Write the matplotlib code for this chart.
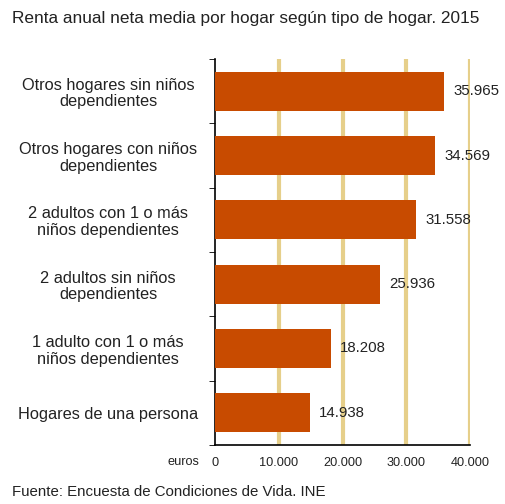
import matplotlib
matplotlib.use('Agg')
import matplotlib.pyplot as plt
import numpy as np

categories = [
    "Otros hogares sin niños\ndependientes",
    "Otros hogares con niños\ndependientes",
    "2 adultos con 1 o más\nniños dependientes",
    "2 adultos sin niños\ndependientes",
    "1 adulto con 1 o más\nniños dependientes",
    "Hogares de una persona",
]
values = [35965, 34569, 31558, 25936, 18208, 14938]
xticks = [0, 10000, 20000, 30000, 40000]

BAR_COLOR = '#C84B00'
GRID_COLOR = '#E6CF8A'
TEXT_COLOR = '#222222'

plt.rcParams['font.family'] = ['Liberation Sans', 'DejaVu Sans']
plt.rcParams['text.color'] = TEXT_COLOR

fig = plt.figure(figsize=(5.05, 5.04), dpi=100)
ax = fig.add_axes([215 / 505, 1 - 445 / 504, 255 / 505, 386 / 504])

y = np.arange(len(categories))
ax.barh(y, values, height=0.61, color=BAR_COLOR, zorder=3)
for yi, v in zip(y, values):
    label = f"{v:,}".replace(",", ".")
    ax.annotate(label, (v, yi), xytext=(6.5, 0), textcoords='offset points',
                va='center', ha='left', fontsize=10.8, color=TEXT_COLOR, zorder=4)

ax.set_xlim(0, 40000)
ax.set_ylim(len(categories) - 0.5, -0.5)

for xt in xticks[1:]:
    ax.axvline(xt, color=GRID_COLOR, linewidth=3, zorder=1)

ax.set_xticks(xticks)
ax.set_xticklabels([f"{t:,}".replace(",", ".") for t in xticks], fontsize=9.2,
                   color=TEXT_COLOR)
ax.tick_params(axis='x', length=0, pad=9)

ax.set_yticks(y)
ax.set_yticklabels(categories, fontsize=11.8, ha='center', multialignment='center',
                   linespacing=1.15, color=TEXT_COLOR)
ax.tick_params(axis='y', length=0, pad=77)
ax.set_yticks(np.arange(len(categories) + 1) - 0.5, minor=True)
ax.tick_params(axis='y', which='minor', length=4, direction='out')

for s in ['top', 'right']:
    ax.spines[s].set_visible(False)
for s in ['left', 'bottom']:
    ax.spines[s].set_color('black')
    ax.spines[s].set_linewidth(1.2)

fig.text(168 / 505, 1 - 462 / 504, "euros", fontsize=9.2, va='center', ha='left')
fig.text(12 / 505, 1 - 18 / 504, "Renta anual neta media por hogar según tipo de hogar. 2015",
         fontsize=12.4, va='center', ha='left')
fig.text(12 / 505, 1 - 492 / 504, "Fuente: Encuesta de Condiciones de Vida. INE",
         fontsize=10.8, va='center', ha='left')

fig.savefig('out.png', dpi=100)
